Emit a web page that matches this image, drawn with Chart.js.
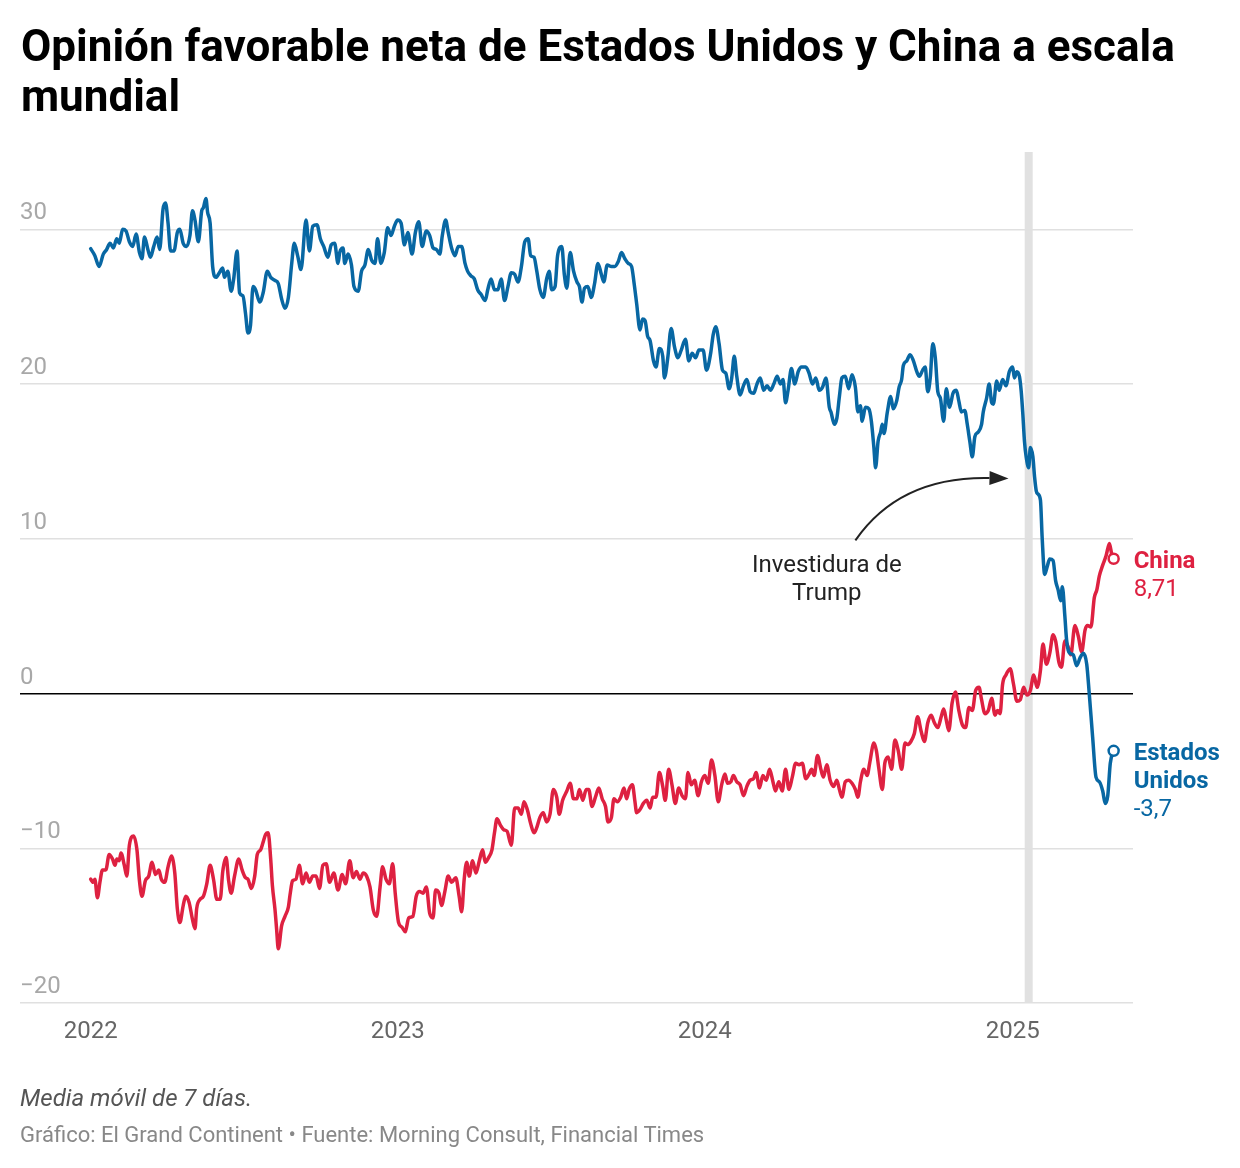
<!DOCTYPE html>
<html lang="es">
<head>
<meta charset="utf-8">
<title>Opinión favorable neta de Estados Unidos y China a escala mundial</title>
<script src="https://cdn.jsdelivr.net/npm/chart.js@4/dist/chart.umd.min.js"></script>
<style>
  html, body { margin: 0; padding: 0; background: #fff; }
  body { width: 1240px; height: 1168px; position: relative; overflow: hidden; font-family: Roboto, "Noto Sans", sans-serif; }
  #title { position: absolute; left: 21px; top: 21px; width: 1200px; margin: 0; font-weight: 700; font-size: 44px; line-height: 50px; color: #000; z-index: 2; }
  #note { position: absolute; left: 20px; top: 1083px; margin: 0; font-style: italic; font-size: 24px; line-height: 30px; color: #555; z-index: 2; }
  #source { position: absolute; left: 20px; top: 1121px; margin: 0; font-size: 22px; line-height: 28px; color: #888; z-index: 2; }
  #chart { position: absolute; left: 0; top: 0; }
</style>
</head>
<body>
<h1 id="title">Opinión favorable neta de Estados Unidos y China a escala mundial</h1>
<canvas id="chart" width="1240" height="1168"></canvas>
<p id="note">Media móvil de 7 días.</p>
<p id="source">Gráfico: El Grand Continent • Fuente: Morning Consult, Financial Times</p>
<script>
// x values: days since 2022-01-01 (7-day moving average)
const usDays = [0,5,10,15,19,23,27,31,34,38,42,46,50,54,58,61,64,68,71,75,79,82,86,89,92,95,99,103,106,110,114,118,121,124,128,132,134,137,139,142,145,149,153,157,159,163,167,170,174,177,181,184,187,190,193,196,201,205,210,214,219,223,227,231,235,239,242,246,250,256,260,264,269,273,277,282,286,290,294,296,300,302,306,310,313,318,322,326,330,334,338,341,345,349,353,357,361,365,369,373,377,382,386,390,394,399,403,407,411,415,418,422,425,429,433,437,441,445,448,452,456,460,464,469,472,476,480,484,488,492,496,500,504,508,512,516,520,523,527,530,534,538,542,545,548,552,555,560,563,566,570,574,578,581,584,587,591,595,599,603,607,610,614,619,623,627,631,635,639,643,646,649,653,656,659,662,665,669,672,676,680,682,686,690,694,698,702,707,711,715,719,723,728,732,737,740,743,747,751,755,759,762,765,768,772,776,780,784,788,792,796,800,804,808,812,816,820,823,826,829,833,837,841,845,850,854,858,862,866,870,874,878,880,884,887,890,893,897,901,905,909,912,915,917,921,925,928,931,933,936,939,941,943,947,951,954,958,961,964,966,970,974,978,982,985,989,992,995,998,1001,1004,1007,1010,1014,1017,1021,1025,1029,1032,1035,1039,1042,1045,1048,1051,1055,1059,1061,1065,1068,1071,1073,1077,1080,1084,1088,1092,1096,1098,1101,1104,1106,1108,1110,1112,1115,1117,1120,1122,1124,1126,1129,1131,1134,1137,1140,1144,1147,1150,1153,1155,1158,1160,1162,1164,1168,1172,1176,1180,1184,1187,1191,1195,1199,1203,1206,1209,1212,1216];
const usValues = [28.75,28.3,27.6,28.4,28.7,29.1,28.8,29.4,29.1,30.0,29.9,29.2,28.9,29.7,28.5,28.1,29.5,28.7,28.2,28.9,29.5,28.7,31.3,31.7,30.4,28.6,28.6,29.8,30.0,29.1,28.9,29.6,31.2,30.6,29.2,31.2,31.4,32.0,31.1,30.4,27.6,26.9,27.2,27.5,26.9,27.3,26.0,26.8,28.6,25.9,25.7,24.6,23.3,23.8,26.3,26.1,25.3,25.9,27.3,26.9,26.7,26.5,25.5,24.9,25.6,27.8,29.1,28.3,27.4,30.6,28.6,30.2,30.3,29.4,28.9,28.2,29.0,29.1,27.8,28.5,28.8,27.8,28.4,27.7,26.3,26.0,27.3,27.7,28.7,28.0,27.8,29.4,27.8,28.5,30.1,29.6,30.2,30.6,30.4,29.0,29.8,28.4,29.8,30.5,28.9,29.9,29.6,28.8,28.7,28.4,29.6,30.6,29.8,28.8,28.3,28.9,28.9,27.8,27.3,27.0,26.8,26.1,25.8,25.4,26.1,26.8,26.1,26.1,26.8,25.4,26.3,27.2,27.1,26.6,27.6,29.2,29.4,28.3,28.2,27.4,26.1,25.6,26.8,27.3,26.1,26.3,28.3,28.9,27.1,26.2,28.5,27.3,26.6,26.3,25.3,26.2,26.3,25.6,26.5,27.8,27.1,26.6,27.7,27.6,27.6,27.9,28.5,28.1,27.8,27.6,26.5,25.2,23.5,24.2,24.1,23.1,22.8,21.5,21.1,22.3,21.8,20.4,21.7,23.6,22.4,21.7,22.2,22.9,21.5,22.0,21.7,22.2,22.2,20.9,22.0,23.2,23.7,22.6,20.9,20.7,19.7,20.4,21.8,20.5,19.3,19.9,20.3,19.5,19.4,20.0,20.4,19.6,19.9,19.6,20.0,20.5,20.0,20.3,18.8,19.6,21.0,20.0,20.8,21.1,21.1,20.7,20.0,20.4,19.6,19.8,20.4,18.5,18.2,17.4,17.8,19.2,20.4,20.5,19.7,20.6,19.8,18.2,18.6,17.6,18.5,18.4,17.6,15.9,14.6,16.3,16.9,17.4,16.8,18.2,19.2,18.4,18.9,19.8,20.3,21.2,21.5,21.9,21.5,20.8,20.5,20.9,21.1,19.5,20.4,22.6,21.7,19.5,19.1,17.6,19.7,18.5,19.4,19.6,18.9,18.2,18.3,17.4,16.3,15.3,16.6,16.9,17.4,18.2,19.1,20.0,18.8,18.7,20.2,19.6,20.3,19.9,20.8,21.1,20.4,20.8,20.5,19.6,18.1,16.3,15.3,14.6,15.9,15.3,14.0,13.1,12.9,12.5,10.1,7.7,8.2,8.7,8.6,7.3,6.7,6.0,6.9,5.0,3.5,2.8,2.6,2.5,1.8,2.3,2.6,1.9,0.0,-2.8,-5.4,-5.7,-6.3,-7.1,-6.6,-4.5,-3.7];

const cnDays = [0,3,5,8,11,14,18,22,26,29,31,34,36,40,43,46,51,55,58,61,65,69,73,77,81,84,88,92,96,100,103,106,110,113,117,121,124,126,130,134,138,142,146,150,154,157,161,164,167,171,176,180,184,187,191,195,198,202,205,208,211,214,216,219,221,223,227,231,235,237,240,244,248,252,256,260,264,268,272,276,280,284,289,294,299,303,308,312,316,320,324,328,332,336,340,344,347,351,355,359,362,366,370,374,378,383,387,391,395,399,403,407,410,414,417,421,425,429,434,438,441,444,447,450,454,458,462,466,469,473,477,480,483,487,491,495,500,504,508,512,515,519,523,527,530,534,538,542,546,550,554,557,561,566,570,574,578,581,585,589,592,596,600,604,608,612,615,619,622,626,630,634,637,640,644,647,649,653,657,661,665,668,672,676,680,683,687,691,695,699,703,707,710,714,718,722,726,730,734,738,742,746,750,754,757,761,764,768,772,776,780,784,788,791,795,799,803,807,811,814,818,822,826,830,834,838,842,846,850,854,857,860,864,868,871,875,879,883,887,890,893,897,901,905,909,912,915,919,923,926,931,934,937,941,944,948,952,956,960,964,968,971,975,979,983,987,991,995,999,1003,1007,1011,1014,1017,1020,1024,1028,1032,1036,1040,1044,1048,1052,1056,1059,1063,1067,1071,1075,1078,1081,1084,1088,1093,1097,1101,1105,1109,1113,1117,1121,1125,1129,1132,1136,1140,1144,1147,1151,1154,1158,1162,1165,1170,1174,1178,1182,1185,1189,1193,1196,1199,1203,1207,1211,1214,1216];
const cnValues = [-12.0,-12.2,-12.0,-13.2,-12.2,-11.4,-11.4,-10.4,-10.7,-11.1,-10.7,-10.8,-10.3,-11.1,-11.8,-9.8,-9.2,-10.1,-12.1,-13.1,-12.1,-11.8,-10.9,-11.7,-11.4,-12.0,-12.2,-11.2,-10.5,-11.6,-13.9,-14.8,-13.7,-13.1,-13.5,-14.6,-15.2,-13.9,-13.3,-13.1,-12.3,-11.1,-12.0,-13.3,-13.3,-11.5,-10.6,-12.1,-12.9,-11.8,-10.7,-11.4,-11.9,-12.0,-12.6,-11.8,-10.4,-10.1,-9.6,-9.1,-9.0,-10.7,-12.4,-13.9,-15.2,-16.5,-15.0,-14.4,-13.8,-13.0,-12.1,-12.0,-11.1,-12.3,-11.6,-12.2,-11.8,-11.8,-12.6,-11.1,-11.0,-12.2,-11.6,-12.7,-11.7,-12.3,-10.8,-11.9,-11.5,-12.0,-11.6,-11.8,-12.5,-14.0,-14.4,-12.5,-11.2,-12.0,-12.3,-11.0,-12.9,-14.8,-15.1,-15.4,-14.5,-14.4,-13.1,-12.8,-12.9,-12.5,-14.2,-14.5,-12.7,-12.9,-13.7,-12.8,-11.8,-12.2,-11.9,-13.1,-14.1,-12.0,-10.9,-11.8,-10.8,-11.6,-10.8,-10.1,-10.9,-10.6,-10.1,-9.0,-8.1,-8.5,-8.8,-8.9,-9.8,-7.4,-7.4,-7.8,-7.0,-7.5,-8.4,-9.0,-8.7,-8.0,-7.7,-8.3,-7.8,-6.2,-6.7,-7.8,-6.9,-6.3,-5.8,-6.8,-6.8,-6.2,-6.9,-6.2,-6.2,-7.3,-6.7,-6.1,-6.8,-7.3,-8.3,-8.0,-6.8,-7.0,-6.7,-6.1,-6.8,-6.2,-5.9,-7.0,-7.7,-7.5,-7.1,-6.9,-7.4,-6.7,-6.7,-5.1,-6.0,-6.9,-4.9,-5.9,-7.1,-6.1,-6.6,-6.8,-5.1,-5.9,-5.6,-6.6,-5.7,-5.3,-5.8,-4.3,-5.3,-7.0,-5.9,-5.2,-5.8,-5.7,-5.3,-5.7,-5.9,-6.6,-6.0,-5.6,-5.5,-5.1,-6.1,-5.3,-5.6,-4.9,-5.7,-6.3,-5.7,-6.3,-4.9,-6.2,-5.4,-4.5,-4.6,-4.5,-5.5,-5.2,-4.9,-5.3,-4.0,-4.9,-5.4,-4.6,-5.6,-6.0,-5.6,-6.2,-6.7,-5.7,-5.6,-5.8,-6.2,-6.7,-5.7,-4.9,-5.3,-4.5,-3.2,-3.7,-4.9,-6.2,-4.5,-4.1,-4.9,-3.0,-3.7,-4.9,-3.2,-3.3,-3.1,-2.6,-1.5,-2.4,-3.1,-1.9,-1.4,-1.9,-2.2,-1.5,-1.0,-1.7,-2.4,-0.6,0.1,-1.1,-2.0,-2.2,-0.9,-1.1,0.2,0.4,-0.4,-1.3,-1.1,-0.3,-1.4,-1.1,-1.3,0.6,1.2,1.6,0.6,-0.5,-0.4,0.4,-0.1,0.2,1.2,0.4,1.5,3.2,1.9,2.6,3.8,3.4,2.0,1.7,3.4,3.0,2.5,4.4,3.7,2.7,4.1,4.4,4.3,6.2,6.7,7.6,8.3,8.9,9.7,8.9,8.71];

const seriesNames = ['Estados Unidos', 'China'];
const yearLabels = ['2022', '2023', '2024', '2025'];
const yTickValues = [-20, -10, 0, 10, 20, 30];
const inaugurationDate = '2025-01-20';
const annotationLines = ['Investidura de', 'Trump'];

const DAY = 86400000;
const origin = Date.UTC(2022, 0, 1);
const dayOf = (iso) => { const [yy, mm, dd] = iso.split('-').map(Number); return Math.round((Date.UTC(yy, mm - 1, dd) - origin) / DAY); };
const yearDays = yearLabels.map(y => dayOf(y + '-01-01'));
const inaugurationDay = dayOf(inaugurationDate);

const BLUE = '#0867a3';
const RED = '#de2141';
const FONT = 'Roboto, "Noto Sans", sans-serif';

const fmt = v => String(v).replace('.', ',');
const toPoints = (xs, ys) => xs.map((d, i) => ({ x: d, y: ys[i] }));

const lastMarker = (ctx) => ctx.dataIndex === ctx.dataset.data.length - 1 ? 5 : 0;

const overlay = {
  id: 'overlay',
  beforeDraw(chart) {
    const { ctx, chartArea, scales: { x } } = chart;
    const bx = x.getPixelForValue(inaugurationDay);
    ctx.save();
    ctx.fillStyle = '#e1e1e1';
    ctx.fillRect(bx - 4, chartArea.top, 8, chartArea.bottom - chartArea.top);
    ctx.restore();
  },
  afterDatasetsDraw(chart) {
    const { ctx, scales: { x, y } } = chart;
    ctx.save();
    // end labels
    chart.data.datasets.forEach((ds, i) => {
      const meta = chart.getDatasetMeta(i);
      const pt = meta.data[meta.data.length - 1];
      const lastVal = ds.data[ds.data.length - 1].y;
      const lines = ds.endLabel.map(t => ({ t, b: true })).concat([{ t: fmt(lastVal), b: false }]);
      ctx.fillStyle = ds.borderColor;
      ctx.textAlign = 'left';
      ctx.textBaseline = 'middle';
      lines.forEach((ln, k) => {
        ctx.font = (ln.b ? '700 ' : '400 ') + '24px ' + FONT;
        ctx.fillText(ln.t, pt.x + 20, pt.y + 3 + k * 28);
      });
    });
    // annotation
    const tx = x.getPixelForValue(875), ty = y.getPixelForValue(8.34);
    ctx.fillStyle = '#222';
    ctx.font = '400 24px ' + FONT;
    ctx.textAlign = 'center';
    ctx.textBaseline = 'middle';
    annotationLines.forEach((t, k) => ctx.fillText(t, tx, ty + 1 + k * 28));
    const sx = x.getPixelForValue(909), sy = y.getPixelForValue(9.9);
    const cx = x.getPixelForValue(962), cy = y.getPixelForValue(14.05);
    const ex = x.getPixelForValue(inaugurationDay - 24), ey = y.getPixelForValue(13.9);
    const ang = Math.atan2(ey - cy, ex - cx);
    const hl = 19, hw = 7;
    const bxp = ex - hl * Math.cos(ang), byp = ey - hl * Math.sin(ang);
    ctx.strokeStyle = '#222';
    ctx.lineWidth = 2;
    ctx.beginPath();
    ctx.moveTo(sx, sy);
    ctx.quadraticCurveTo(cx, cy, bxp, byp);
    ctx.stroke();
    ctx.fillStyle = '#222';
    ctx.beginPath();
    ctx.moveTo(ex, ey);
    ctx.lineTo(bxp - hw * Math.sin(ang), byp + hw * Math.cos(ang));
    ctx.lineTo(bxp + hw * Math.sin(ang), byp - hw * Math.cos(ang));
    ctx.closePath();
    ctx.fill();
    ctx.restore();
  }
};

new Chart(document.getElementById('chart'), {
  type: 'line',
  data: {
    datasets: [
      { label: seriesNames[0], endLabel: ['Estados', 'Unidos'], data: toPoints(usDays, usValues), borderColor: BLUE, backgroundColor: '#fff' },
      { label: seriesNames[1], endLabel: ['China'], data: toPoints(cnDays, cnValues), borderColor: RED, backgroundColor: '#fff' }
    ].map(d => Object.assign(d, {
      borderWidth: 3.5, cubicInterpolationMode: 'monotone', fill: false,
      pointRadius: lastMarker, pointHoverRadius: 0,
      pointBorderColor: d.borderColor, pointBackgroundColor: '#fff', pointBorderWidth: 2.5,
      borderJoinStyle: 'round', borderCapStyle: 'round'
    }))
  },
  options: {
    responsive: false,
    animation: false,
    devicePixelRatio: 1,
    layout: { padding: { left: 20, right: 107, top: 152, bottom: 115 } },
    plugins: { legend: { display: false }, tooltip: { enabled: false }, title: { display: false } },
    scales: {
      x: {
        type: 'linear',
        min: -84, max: 1239,
        grid: { display: false, drawTicks: false },
        border: { display: false },
        afterBuildTicks: s => { s.ticks = yearDays.map(v => ({ value: v })); },
        afterFit: s => { s.height = 50; },
        ticks: {
          autoSkip: false, maxRotation: 0, padding: 15,
          color: '#666', font: { family: FONT, size: 24 },
          callback: (v, i) => yearLabels[i]
        }
      },
      y: {
        type: 'linear',
        min: -20, max: 35,
        grid: {
          drawTicks: false,
          color: c => (c.tick && c.tick.value === 0) ? '#000' : '#e0e0e0',
          lineWidth: 1.5
        },
        border: { display: false },
        afterBuildTicks: s => { s.ticks = yTickValues.map(v => ({ value: v })); },
        afterFit: s => { s.width = 0; },
        ticks: {
          mirror: true, padding: 0, labelOffset: -16,
          color: '#a8a8a8', font: { family: FONT, size: 24 },
          callback: v => String(v).replace('-', '\u2212')
        }
      }
    }
  },
  plugins: [overlay]
});
</script>
</body>
</html>
